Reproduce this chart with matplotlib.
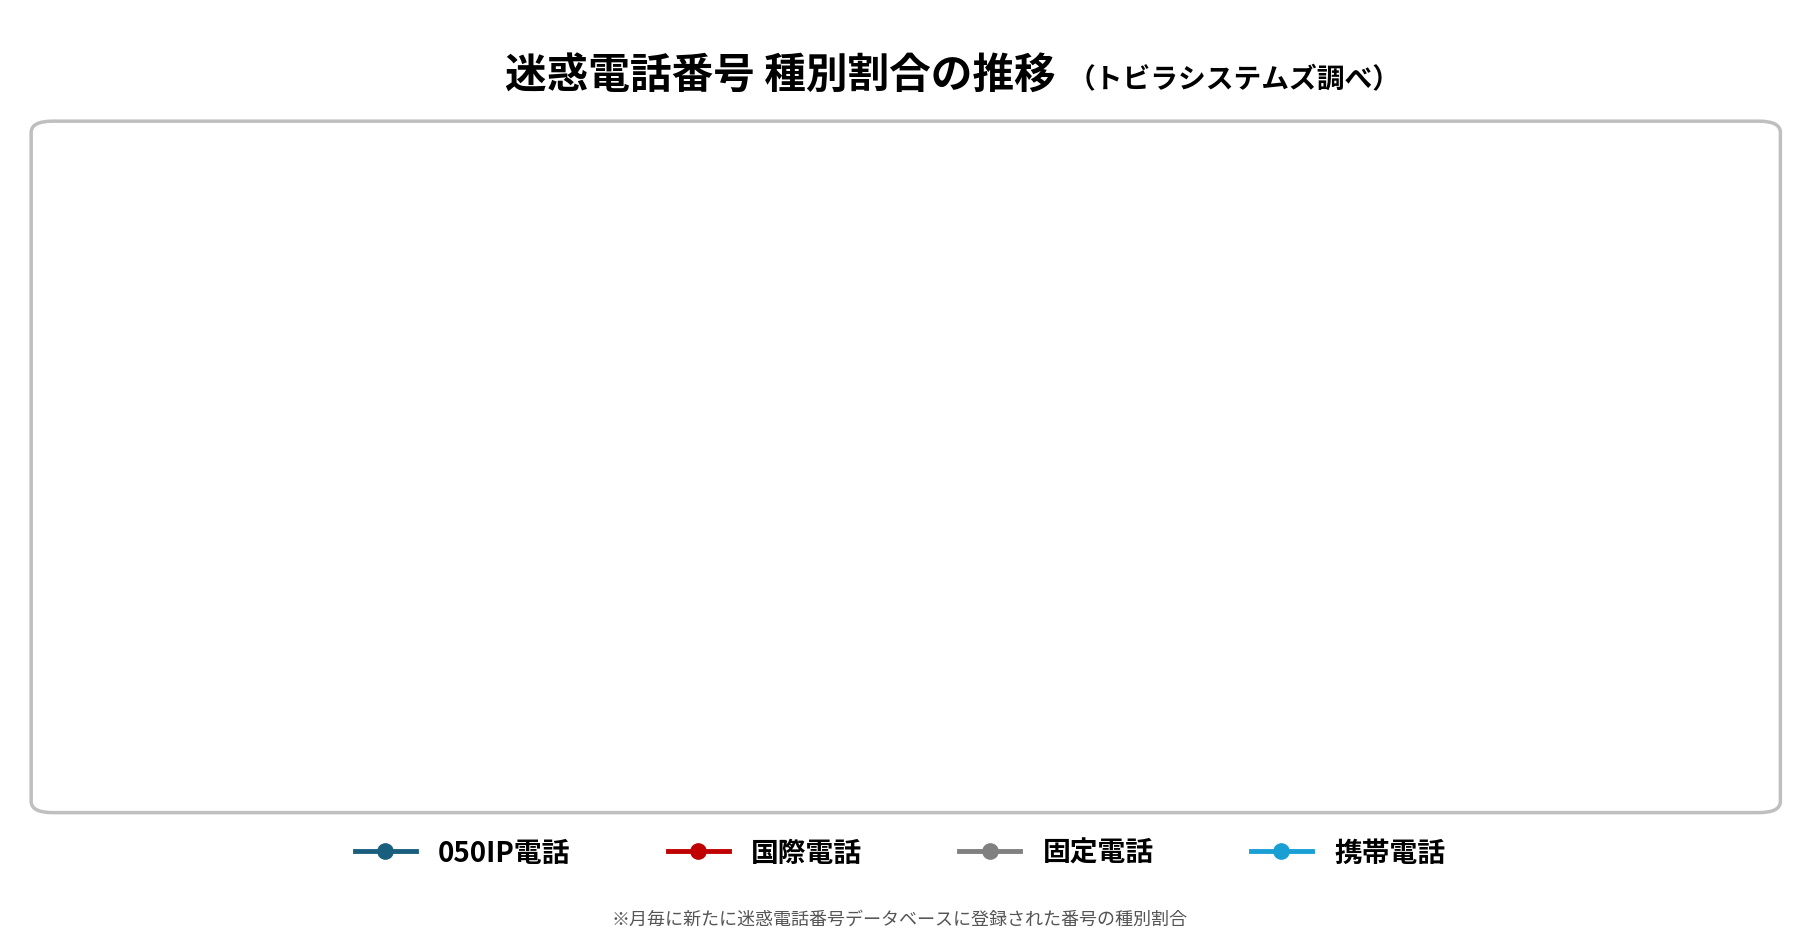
import matplotlib.pyplot as plt
from matplotlib.patches import FancyBboxPatch
from matplotlib.lines import Line2D

plt.rcParams['font.family'] = ['Noto Sans CJK JP', 'DejaVu Sans']

months = ['4月', '5月', '6月', '7月', '8月', '9月', '10月', '11月', '12月', '1月', '2月', '3月', '4月']
ip050 = [11.3, 12.9, 10.2, 9.6, 10.9, 10.8, 7.5, 7.3, 9.7, 6.5, 14.7, 6.4, 9.5]
intl = [62.0, 57.7, 63.4, 60.4, 64.5, 65.6, 61.1, 61.2, 54.6, 67.1, 45.0, 50.4, 62.0]
fixed = [6.8, 5.7, 7.5, 9.8, 7.5, 7.0, 4.5, 6.0, 7.1, 7.0, 9.2, 5.1, 7.2]
mobile = [13.8, 17.7, 14.3, 15.1, 12.6, 12.2, 23.1, 21.4, 23.5, 16.2, 24.0, 34.5, 17.4]
series = [('050IP電話', ip050, '#1a5e7e'), ('国際電話', intl, '#c00000'),
          ('固定電話', fixed, '#808080'), ('携帯電話', mobile, '#1a9fd4')]

fig = plt.figure(figsize=(18, 9.45), dpi=100)
W, H = 1560, 820
def fx(x): return x / W
def fy(y): return 1 - y / H

box = FancyBboxPatch((fx(27), fy(706)), fx(1543) - fx(27), fy(106) - fy(706),
                     boxstyle='round,pad=0,rounding_size=0.012', transform=fig.transFigure,
                     facecolor='white', edgecolor='#bfbfbf', linewidth=2.5, zorder=0)
fig.patches.append(box)

ax = fig.add_axes([fx(145), fy(601), fx(1485) - fx(145), fy(150) - fy(601)])
ax.set_facecolor('none')
x = list(range(len(months)))
for name, vals, c in series:
    ax.plot(x, vals, color=c, lw=2.5, marker='o', ms=7, clip_on=False, zorder=3)
ax.set_xlim(-0.3, 12.4)
ax.set_ylim(0, 80)
ax.set_yticks(range(0, 81, 10))
ax.set_yticklabels([f'{v}%' for v in range(0, 81, 10)], color='#a6a6a6', fontsize=14)
ax.grid(axis='y', color='#e0e0e0', lw=1)
for s in ['top', 'right', 'left']:
    ax.spines[s].set_visible(False)
ax.spines['bottom'].set_linewidth(1.5)
ax.tick_params(axis='y', length=0, pad=30)
ax.set_xticks(x)
ax.set_xticklabels(months, fontsize=15, color='#333333')
ax.tick_params(axis='x', length=0, pad=14)

ax.text(4, -13.5, '2025年', ha='center', va='center', fontsize=15, color='#333333')
ax.text(10.5, -13.5, '2026年', ha='center', va='center', fontsize=15, color='#333333')
ax.plot([8.5, 8.5], [-3.5, -16.5], color='#d0d0d0', lw=1.5, clip_on=False)

fig.text(fx(915), fy(66), '迷惑電話番号 種別割合の推移', ha='right', va='center',
         fontsize=30, fontweight='bold')
fig.text(fx(925), fy(70), '（トビラシステムズ調べ）', ha='left', va='center', fontsize=20, fontweight='bold')

handles = [Line2D([0], [0], color=c, lw=3.5, marker='o', ms=11) for _, _, c in series]
fig.legend(handles, [n for n, _, _ in series], loc='center', bbox_to_anchor=(0.5, fy(741)),
           ncol=4, frameon=False, prop={'size': 20, 'weight': 'bold'}, columnspacing=3.5,
           handlelength=2.2)
fig.text(0.5, fy(798), '※月毎に新たに迷惑電話番号データベースに登録された番号の種別割合',
         ha='center', va='center', fontsize=13, color='#555555')

fig.savefig('out.png', dpi=100, facecolor='white')
